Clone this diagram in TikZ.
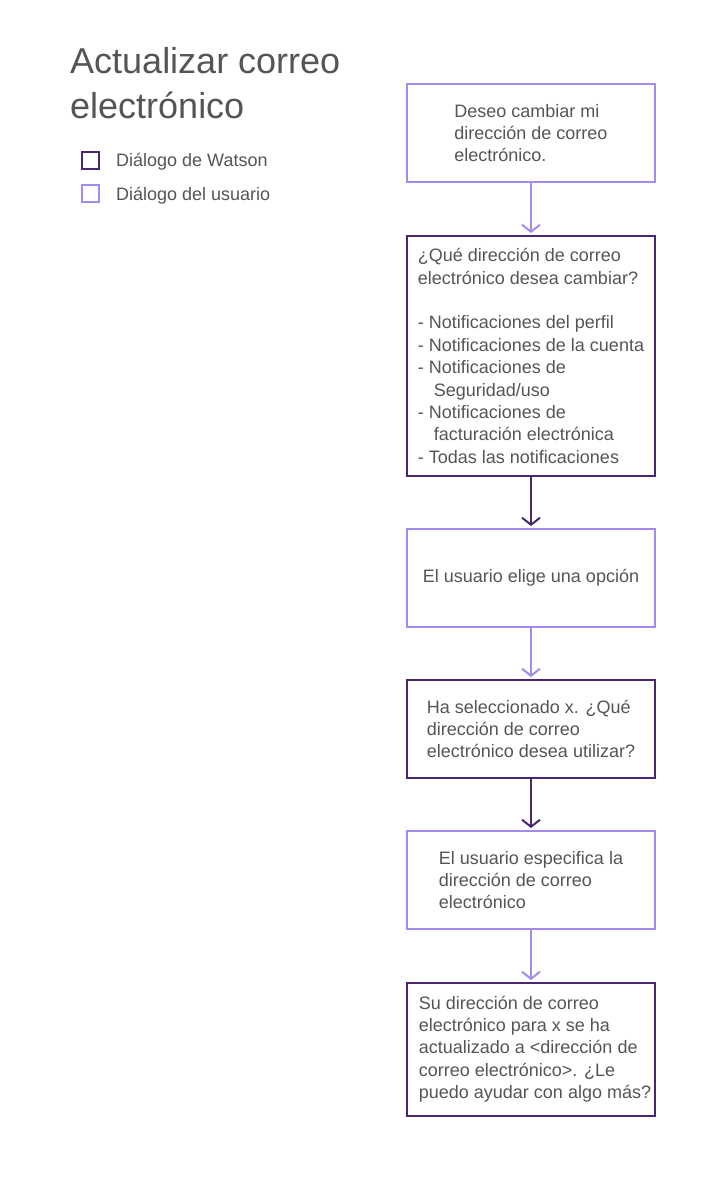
\documentclass[tikz,border=0pt]{standalone}
\usepackage{fontspec}
\setmainfont{Liberation Sans}
\usetikzlibrary{arrows.meta}
\definecolor{watson}{HTML}{4A2670}
\definecolor{usr}{HTML}{A38BF0}
\definecolor{txt}{HTML}{555555}
\tikzset{
  box/.style={draw, line width=2pt, minimum width=248pt, inner sep=0pt, align=left,
    text=txt, font=\fontsize{18}{22.4}\selectfont},
  wbox/.style={box, draw=watson},
  ubox/.style={box, draw=usr},
  conn/.style={line width=2pt, -{Straight Barb[length=7pt,width=18pt,line width=2pt]}, shorten >=2pt},
  legsq/.style={draw, line width=2pt, minimum width=17pt, minimum height=17pt, inner sep=0pt},
  legtxt/.style={anchor=west, text=txt, font=\fontsize{18}{22}\selectfont, inner sep=0pt},
  ttl/.style={anchor=base west, inner sep=0pt, text=txt, font=\fontsize{36}{45}\selectfont}
}
\begin{document}
\begin{tikzpicture}[x=1pt,y=-1pt]
\useasboundingbox (0,0) rectangle (720,1180);
\fill[white] (0,0) rectangle (720,1180);
% title
\node[ttl] (t1) at (70,74) {Actualizar correo};
\node[ttl] (t2) at (70,119) {electrónico};
% legend
\node[legsq, draw=watson] (lw) at (90.5,160.5) {};
\node[legtxt] (lwt) at (116,161.5) {Diálogo de Watson};
\node[legsq, draw=usr] (lu) at (90.5,193) {};
\node[legtxt] (lut) at (116,195.5) {Diálogo del usuario};
% boxes
\node[ubox, minimum height=98pt] (b1) at (531,133) {Deseo cambiar mi\\dirección de correo\\electrónico.};
\node[wbox, minimum height=240pt] (b2) at (531,356) {¿Qué dirección de correo\\electrónico desea cambiar?\\[22.4pt]- Notificaciones del perfil\\- Notificaciones de la cuenta\\- Notificaciones de\\\hspace*{16pt}Seguridad/uso\\- Notificaciones de\\\hspace*{16pt}facturación electrónica\\- Todas las notificaciones};
\node[ubox, minimum height=98pt] (b3) at (531,578) {El usuario elige una opción};
\node[wbox, minimum height=98pt] (b4) at (531,729) {Ha seleccionado x. ¿Qué\\dirección de correo\\electrónico desea utilizar?};
\node[ubox, minimum height=98pt] (b5) at (531,880) {El usuario especifica la\\dirección de correo\\electrónico};
\node[wbox, minimum height=133pt] (b6) at (531,1049.5) {\hspace*{8pt}\begin{tabular}{@{}l@{}}Su dirección de correo\\electrónico para x se ha\\actualizado a <dirección de\\correo electrónico>. ¿Le\\puedo ayudar con algo más?\end{tabular}};
% connectors
\draw[conn, usr] (b1) -- (b2);
\draw[conn, watson] (b2) -- (b3);
\draw[conn, usr] (b3) -- (b4);
\draw[conn, watson] (b4) -- (b5);
\draw[conn, usr] (b5) -- (b6);
\end{tikzpicture}
\end{document}
